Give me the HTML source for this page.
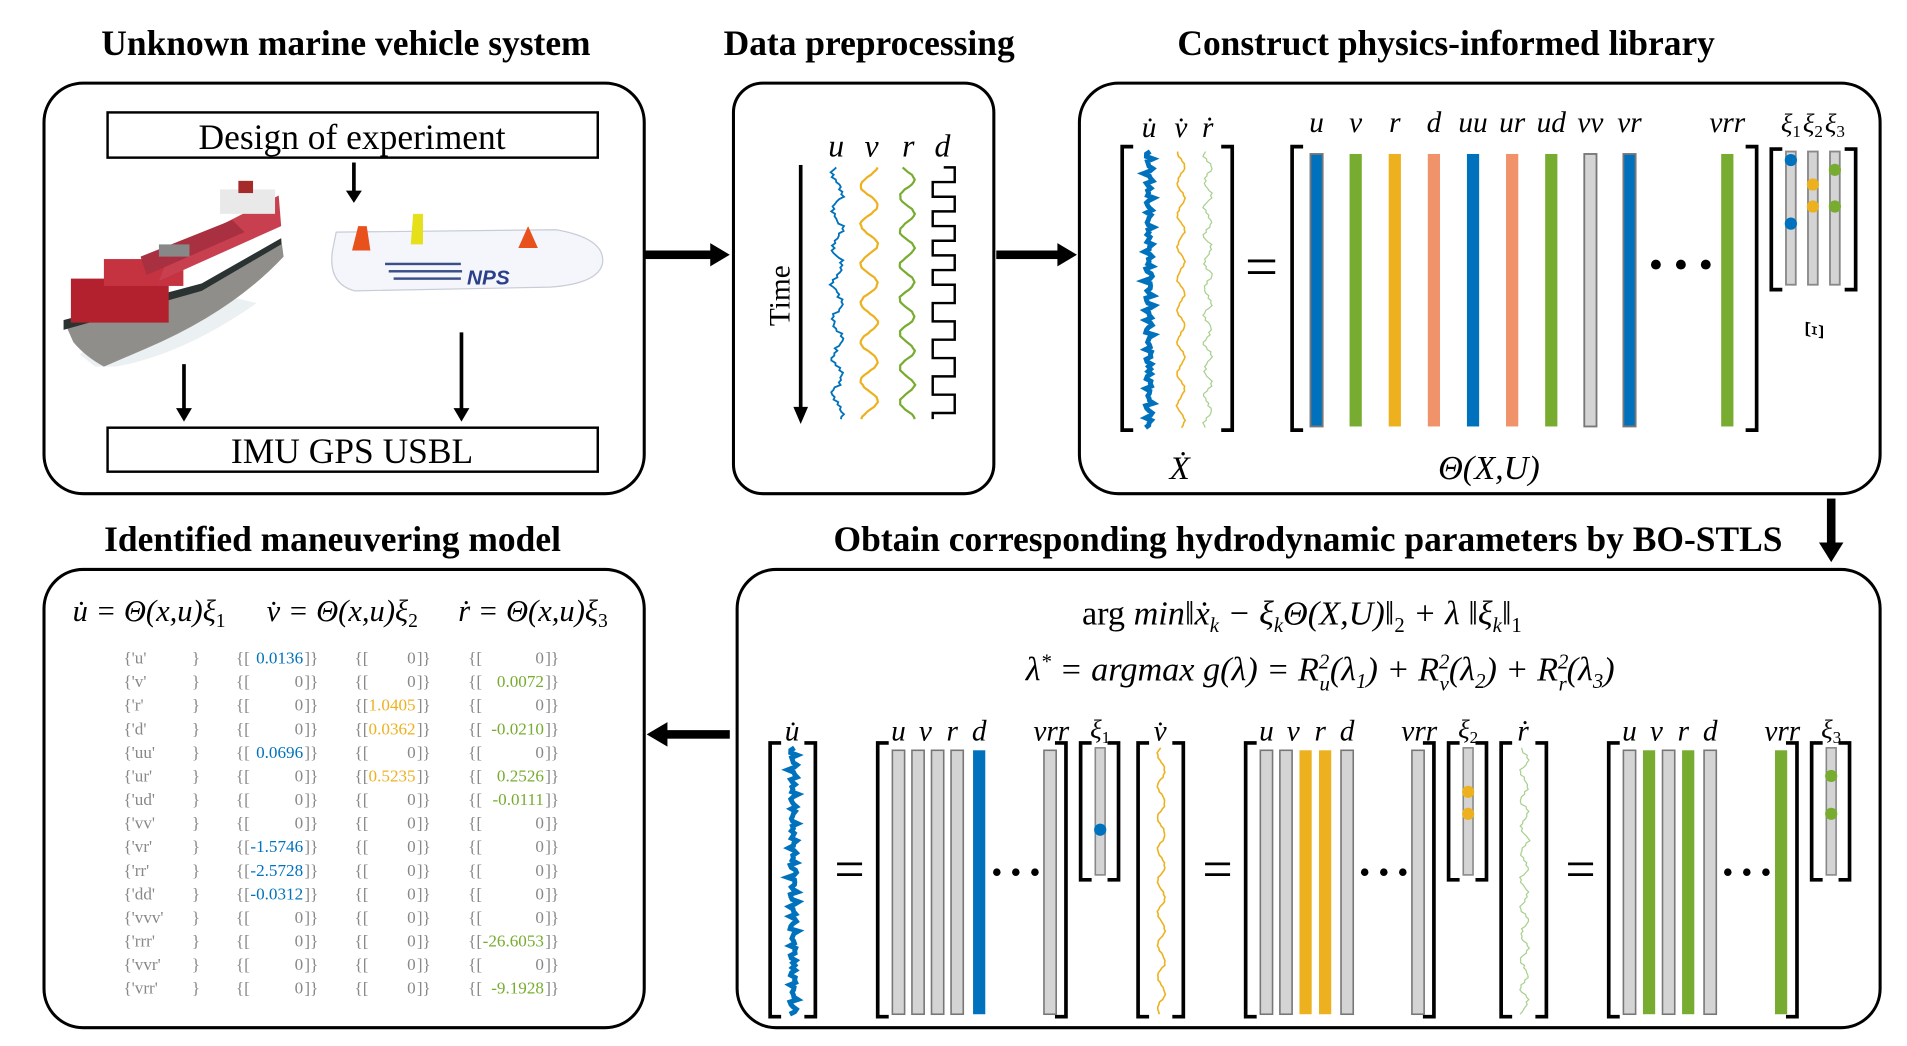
<!DOCTYPE html>
<html><head><meta charset="utf-8"><style>
html,body{margin:0;padding:0;background:#fff;overflow:hidden}
svg{display:block}
.t{font-family:"Liberation Serif",serif;font-weight:bold;font-size:29px;text-anchor:middle}
.s{font-family:"Liberation Serif",serif;text-anchor:middle}
.m{font-family:"Liberation Serif",serif;font-style:italic;text-anchor:middle}
.tb{font-family:"Liberation Serif",serif;font-size:14px;fill:#888}
</style></head><body>
<svg id="fig" width="1907" height="1046" viewBox="0 0 1560 856" preserveAspectRatio="none" xmlns="http://www.w3.org/2000/svg">
<g fill="none" stroke="#000" stroke-width="2.5">
<rect x="36" y="68" width="491" height="336" rx="32"/>
<rect x="600" y="68" width="213" height="336" rx="24"/>
<rect x="883" y="68" width="655" height="336" rx="32"/>
<rect x="36" y="466" width="491" height="375" rx="32"/>
<rect x="603" y="466" width="935" height="375" rx="32"/>
</g>
<text class="t" x="283" y="45">Unknown marine vehicle system</text>
<text class="t" x="711" y="45">Data preprocessing</text>
<text class="t" x="1183" y="45">Construct physics-informed library</text>
<text class="t" x="272" y="451">Identified maneuvering model</text>
<text class="t" x="1070" y="451">Obtain corresponding hydrodynamic parameters by BO-STLS</text>
<g>
<rect x="527" y="205" width="56" height="7"/><polygon points="581,199 597,208.5 581,218"/>
<rect x="815" y="205" width="52" height="7"/><polygon points="865,199 881,208.5 865,218"/>
<rect x="1494.5" y="408" width="7" height="38"/><polygon points="1488,444 1498,460 1508,444"/>
<rect x="544" y="597.5" width="53" height="7"/><polygon points="546,591 529,601 546,611"/>
</g>
<rect x="88" y="92" width="401" height="37" fill="none" stroke="#000" stroke-width="2"/>
<text class="s" x="288" y="122" font-size="29">Design of experiment</text>
<rect x="88" y="350" width="401" height="36" fill="none" stroke="#000" stroke-width="2"/>
<text class="s" x="288" y="379" font-size="29">IMU GPS USBL</text>
<g>
<rect x="288" y="133" width="3" height="25"/><polygon points="283,156 289.5,166 296,156"/>
<rect x="149" y="298" width="3" height="38"/><polygon points="144,334 150.5,345 157,334"/>
<rect x="376" y="272" width="3" height="64"/><polygon points="371,334 377.5,345 384,334"/>
</g>
<g>
<path d="M210,248 Q150,290 95,300 L78,300 L65,290 L90,275 L175,240 Z" fill="#dde6ea" opacity="0.6"/>
<path d="M52,262 L165,232 L230,195 L232,210 Q190,255 120,285 L85,300 Q70,292 60,280 Z" fill="#8f8e8a"/>
<path d="M52,262 L165,232 L230,195 L230,200 L165,238 L52,270 Z" fill="#2a3232"/>
<rect x="58" y="228" width="80" height="36" fill="#b3212e"/>
<rect x="85" y="212" width="65" height="22" fill="#c4333f"/>
<polygon points="130,230 230,185 228,160 140,205" fill="#c84050"/>
<polygon points="120,225 200,190 190,180 115,210" fill="#a83040"/>
<rect x="180" y="155" width="45" height="20" fill="#e9e9e9"/>
<rect x="195" y="148" width="12" height="10" fill="#a52a2a"/>
<rect x="130" y="200" width="25" height="10" fill="#888"/>
</g>
<g>
<path d="M275,190 L455,188 Q495,195 493,215 Q490,232 450,235 L290,238 Q268,232 272,205 Z" fill="#f4f6fb" stroke="#c8ccd6"/>
<polygon points="288,205 293,185 300,185 303,205" fill="#e8501c"/>
<polygon points="336,200 338,175 346,175 346,200" fill="#e5e01a"/>
<polygon points="424,203 432,185 440,203" fill="#e8501c"/>
<rect x="315" y="215" width="62" height="2" fill="#3a4f8a"/><rect x="318" y="221" width="60" height="2" fill="#3a4f8a"/><rect x="322" y="227" width="55" height="2" fill="#3a4f8a"/>
<text x="382" y="233" font-family="Liberation Sans,sans-serif" font-weight="bold" font-style="italic" font-size="17" fill="#2c3f8a">NPS</text>
</g>
<g class="m" font-size="26">
<text x="684" y="128">u</text><text x="713" y="128">v</text><text x="743" y="128">r</text><text x="771" y="128">d</text>
</g>
<rect x="653.5" y="135" width="3" height="200"/><polygon points="649,333 655,347 661,333"/>
<text class="s" font-size="24" transform="translate(646,242) rotate(-90)">Time</text>
<g id="g-sig" fill="none"></g>
<g class="m" font-size="24">
<text x="940" y="112">u̇</text><text x="966" y="112">v̇</text><text x="988" y="112">ṙ</text>
</g>
<g id="g-lib"></g>
<text class="s" x="1032" y="234" font-size="48">=</text>
<text class="s" x="1375" y="228" font-size="34">• • •</text>
<text class="m" x="965" y="392" font-size="27">Ẋ</text>
<text class="m" x="1218" y="392" font-size="28">Θ(X,U)</text>
<text class="m" font-size="22" transform="translate(1477,270) rotate(90)">Ξ</text>
<text class="m" x="1065" y="511" font-size="28"><tspan font-style="normal">arg</tspan> min‖ẋ<tspan font-size="17" dy="6">k</tspan><tspan dy="-6"> − ξ</tspan><tspan font-size="17" dy="6">k</tspan><tspan dy="-6">Θ(X,U)‖</tspan><tspan font-size="17" dy="6" font-style="normal">2</tspan><tspan dy="-6"> + λ ‖ξ</tspan><tspan font-size="17" dy="6">k</tspan><tspan dy="-6">‖</tspan><tspan font-size="17" dy="6" font-style="normal">1</tspan></text>
<text class="m" x="1080" y="557" font-size="28">λ<tspan font-size="17" dy="-10">*</tspan><tspan dy="10"> = argmax g(λ) = R</tspan><tspan font-size="17" dy="-10">2</tspan><tspan font-size="17" dx="-8" dy="18">u</tspan><tspan dy="-8">(λ</tspan><tspan font-size="17" dy="6">1</tspan><tspan dy="-6">) + R</tspan><tspan font-size="17" dy="-10">2</tspan><tspan font-size="17" dx="-8" dy="18">v</tspan><tspan dy="-8">(λ</tspan><tspan font-size="17" dy="6">2</tspan><tspan dy="-6">) + R</tspan><tspan font-size="17" dy="-10">2</tspan><tspan font-size="17" dx="-8" dy="18">r</tspan><tspan dy="-8">(λ</tspan><tspan font-size="17" dy="6">3</tspan><tspan dy="-6">)</tspan></text>
<g id="g-sub"></g>
<g class="m" font-size="25">
<text x="122" y="508">u̇ = Θ(x,u)ξ<tspan font-size="16" dy="5" font-style="normal">1</tspan></text>
<text x="280" y="508">v̇ = Θ(x,u)ξ<tspan font-size="16" dy="5" font-style="normal">2</tspan></text>
<text x="436" y="508">ṙ = Θ(x,u)ξ<tspan font-size="16" dy="5" font-style="normal">3</tspan></text>
</g>
<g id="g-tab"></g>
</svg>
<script>
const NS='http://www.w3.org/2000/svg';
const BLUE='#0072BD',ORANGE='#EDB120',GREEN='#77AC30',SALMON='#F0926A',GRAY='#d4d4d4';
function el(p,tag,a){const e=document.createElementNS(NS,tag);for(const k in a)e.setAttribute(k,a[k]);p.appendChild(e);return e;}
const termNames=['u','v','r','d','uu','ur','ud','vv','vr','rr','dd','vvv','rrr','vvr','vrr'];
const coefU=[0.0136,0,0,0,0.0696,0,0,0,-1.5746,-2.5728,-0.0312,0,0,0,0];
const coefV=[0,0,1.0405,0.0362,0,0.5235,0,0,0,0,0,0,0,0,0];
const coefR=[0,0.0072,0,-0.0210,0,0.2526,-0.0111,0,0,0,0,0,-26.6053,0,-9.1928];
const libTerms=['u','v','r','d','uu','ur','ud','vv','vr','vrr'];
const libColors=[BLUE,GREEN,ORANGE,SALMON,BLUE,SALMON,GREEN,GRAY,BLUE,GREEN];

function bracket(p,x0,x1,y0,y1,name){
  const g=el(p,'path',{d:`M${x0+9},${y0} L${x0},${y0} L${x0},${y1} L${x0+9},${y1} M${x1-9},${y0} L${x1},${y0} L${x1},${y1} L${x1-9},${y1}`,fill:'none',stroke:'#000','stroke-width':3});
  
  
}
function squiggle(p,cx,y0,y1,amp,per,color,w,noise,name){
  let d='';const n=Math.round((y1-y0)/2);
  for(let i=0;i<=n;i++){const y=y0+(y1-y0)*i/n;
    let x=cx+amp*Math.sin(y/per*2*Math.PI)+noise*(Math.sin(i*2.7)+Math.sin(i*5.3+1)*0.7+Math.sin(i*11.1)*0.5);
    d+=(i?'L':'M')+x.toFixed(1)+','+y.toFixed(1);}
  const e=el(p,'path',{d:d,fill:'none',stroke:color,'stroke-width':w});
  
  
}
function square(p,cx,y0,y1,amp,name){
  let d=`M${cx},${y0}`;let y=y0,s=1,step=12;
  while(y<y1){d+=` L${cx+s*amp},${y} L${cx+s*amp},${Math.min(y+step,y1)}`;y+=step;s=-s;if(y>y0+90)step=15;}
  const e=el(p,'path',{d:d,fill:'none',stroke:'#000','stroke-width':2});
  
  
}
const sig=document.getElementById('g-sig');
squiggle(sig,685,137,343,4,30,BLUE,1.5,1.2,'u-signal');
squiggle(sig,711,137,343,7,32,ORANGE,1.8,0.3,'v-signal');
squiggle(sig,742,137,343,6,28,GREEN,1.8,0.3,'r-signal');
square(sig,772,137,343,9,'d-signal');

const lib=document.getElementById('g-lib');
bracket(lib,918,1008,120,352,'xdot-bracket');
squiggle(lib,940,124,350,2,8,BLUE,4,1.5,'udot-signal');
squiggle(lib,966,124,350,3,26,ORANGE,1.3,0.4,'vdot-signal');
squiggle(lib,988,124,350,3,22,'#a8d08d',1,0.8,'rdot-signal');
bracket(lib,1057,1437,120,352,'theta-bracket');
const libX=i=>i<9?1077+32*i:1413;
libTerms.forEach((t,i)=>{
  const c=libColors[i];
  const r=el(lib,'rect',{x:libX(i)-5,y:126,width:10,height:223,fill:c,stroke:(c===GRAY||i===0||i===8)?'#777':'none','stroke-width':1.5});
  
  
  const tx=el(lib,'text',{x:libX(i),y:108,class:'m','font-size':24});tx.textContent=t;
  
  
});
bracket(lib,1449,1518,122,237,'xi-bracket');
const xiCols=[[1465,BLUE,[131,183]],[1483,ORANGE,[151,169]],[1501,GREEN,[139,169]]];
xiCols.forEach((c,k)=>{
  const r=el(lib,'rect',{x:c[0]-4,y:124,width:8,height:109,fill:GRAY,stroke:'#888','stroke-width':1.5});
  
  
  c[2].forEach(y=>{const d=el(lib,'circle',{cx:c[0],cy:y,r:5,fill:c[1]});
    
    });
  const tx=el(lib,'text',{x:c[0],y:108,class:'m','font-size':22});tx.innerHTML='ξ<tspan font-size="14" dy="4" font-style="normal">'+(k+1)+'</tspan>';
  
  
});

const sub=document.getElementById('g-sub');
const panels=[
 {off:0,lab:'u̇',col:BLUE,sw:4,amp:2,per:8,noise:1.5,bars:[GRAY,GRAY,GRAY,GRAY,BLUE,GRAY],dots:[679]},
 {off:301,lab:'v̇',col:ORANGE,sw:1.3,amp:3,per:26,noise:0.4,bars:[GRAY,GRAY,ORANGE,ORANGE,GRAY,GRAY],dots:[648,666]},
 {off:598,lab:'ṙ',col:'#a8d08d',sw:1,amp:3,per:22,noise:0.8,bars:[GRAY,GREEN,GRAY,GREEN,GRAY,GREEN],dots:[635,666]}];
const barOff=[0,16,32,48,66,124];
panels.forEach((P,k)=>{
  const o=P.off;
  const t=el(sub,'text',{x:648+o,y:606,class:'m','font-size':24});t.textContent=P.lab;
  
  
  bracket(sub,630+o,667+o,608,832,'panel-'+(k+1)+'-target-bracket');
  squiggle(sub,649+o,612,830,P.amp,P.per,P.col,P.sw,P.noise,'panel-'+(k+1)+'-target-signal');
  const eq=el(sub,'text',{x:695+o,y:726,class:'s','font-size':44});eq.textContent='=';
  
  
  bracket(sub,718+o,872+o,608,832,'panel-'+(k+1)+'-library-bracket');
  P.bars.forEach((c,i)=>{
    const r=el(sub,'rect',{x:730+o+barOff[i],y:614,width:10,height:216,fill:c,stroke:c===GRAY?'#777':'none','stroke-width':1.3});
    
    
  });
  ['u','v','r','d'].forEach((s,i)=>{const tx=el(sub,'text',{x:735+o+i*22,y:606,class:'m','font-size':24});tx.textContent=s;
    
    });
  const vr=el(sub,'text',{x:860+o,y:606,class:'m','font-size':24});vr.textContent='vrr';
  
  
  const el3=el(sub,'text',{x:831+o,y:722,class:'s','font-size':26});el3.textContent='• • •';
  
  
  bracket(sub,884+o,915+o,608,720,'panel-'+(k+1)+'-xi-bracket');
  const xb=el(sub,'rect',{x:896+o,y:612,width:8,height:104,fill:GRAY,stroke:'#888','stroke-width':1.3});
  
  
  P.dots.forEach(y=>{const d=el(sub,'circle',{cx:900+o,cy:y,r:5,fill:P.col==='#a8d08d'?GREEN:P.col});
    
    });
  const xl=el(sub,'text',{x:900+o,y:604,class:'m','font-size':22});xl.innerHTML='ξ<tspan font-size="14" dy="4" font-style="normal">'+(k+1)+'</tspan>';
  
  
});

const tab=document.getElementById('g-tab');
function fmt(v){return v===0?'0':v.toFixed(4);}
termNames.forEach((n,i)=>{
  const y=543+i*19.3;
  const a=el(tab,'text',{x:101,y:y,class:'tb'});a.textContent="{'"+n+"'";
  
  
  const b=el(tab,'text',{x:157,y:y,class:'tb'});b.textContent='}';
  [[coefU,193,258,BLUE],[coefV,290,350,ORANGE],[coefR,383,455,GREEN]].forEach((C,j)=>{
    const v=C[0][i];
    const o=el(tab,'text',{x:C[1],y:y,class:'tb'});o.textContent='{[';
    const c=el(tab,'text',{x:C[2]-10,y:y,class:'tb','text-anchor':'end'});
    c.textContent=fmt(v);
    if(v!==0){c.setAttribute('style','fill:'+C[3]);}
    
    
    const e=el(tab,'text',{x:C[2]-9,y:y,class:'tb'});e.textContent=']}';
  });
});
</script>
</body></html>
